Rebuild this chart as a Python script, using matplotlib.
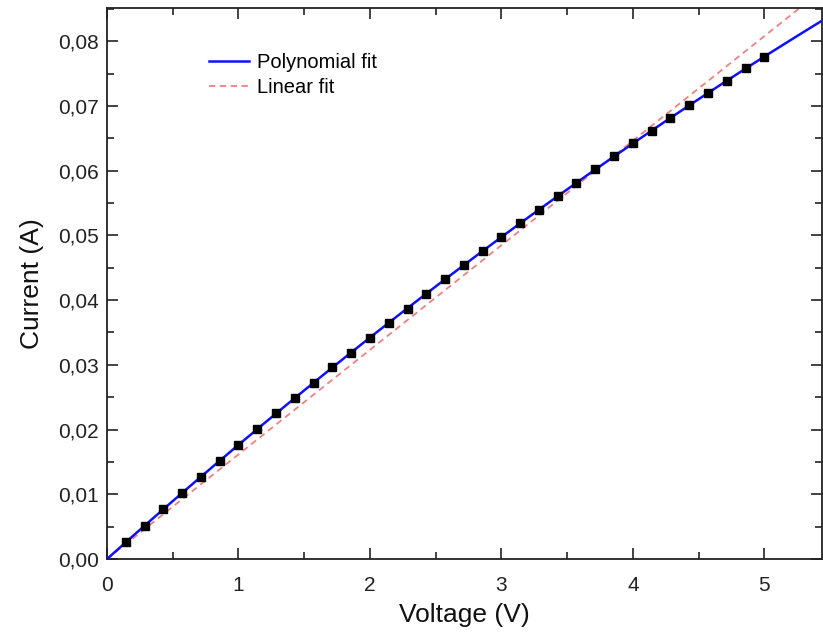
import matplotlib as mpl
mpl.use("Agg")
import matplotlib.pyplot as plt
import numpy as np
from matplotlib.ticker import MultipleLocator, FuncFormatter

# measured points (V, A)
voltage = np.array([0.143, 0.286, 0.429, 0.571, 0.714, 0.857, 1.000,
                    1.143, 1.286, 1.429, 1.571, 1.714, 1.857, 2.000,
                    2.143, 2.286, 2.429, 2.571, 2.714, 2.857, 3.000,
                    3.143, 3.286, 3.429, 3.571, 3.714, 3.857, 4.000,
                    4.143, 4.286, 4.429, 4.571, 4.714, 4.857, 5.000])
current = np.array([0.0026, 0.0051, 0.0077, 0.0102, 0.0127, 0.0152, 0.0176,
                    0.0201, 0.0225, 0.0249, 0.0272, 0.0296, 0.0319, 0.0342,
                    0.0365, 0.0387, 0.0410, 0.0432, 0.0454, 0.0476, 0.0497,
                    0.0519, 0.0540, 0.0561, 0.0581, 0.0602, 0.0622, 0.0642,
                    0.0662, 0.0681, 0.0701, 0.0720, 0.0739, 0.0758, 0.0776])

# fits: 2nd order polynomial through origin, linear through origin
A = np.column_stack([voltage, voltage**2])
poly_coef = np.linalg.lstsq(A, current, rcond=None)[0]
lin_slope = np.sum(voltage * current) / np.sum(voltage**2)

x_fit = np.linspace(0, 5.5, 300)
poly_fit = poly_coef[0] * x_fit + poly_coef[1] * x_fit**2
lin_fit = lin_slope * x_fit

plt.rcParams["font.family"] = ["Liberation Sans", "DejaVu Sans"]
fig = plt.figure(figsize=(8.23, 6.32), dpi=100)
ax = fig.add_axes([0.130, 0.1155, 0.869, 0.8715])

ax.plot(x_fit, lin_fit, color="#f08080", lw=1.3, ls=(0, (3.5, 2.5)), label="Linear fit", zorder=2)
ax.plot(x_fit, poly_fit, color="#1010ff", lw=1.8, label="Polynomial fit", zorder=3)
ax.plot(voltage, current, "s", color="black", ms=5.5, zorder=4)

ax.set_xlim(0, 5.44)
ax.set_ylim(0, 0.0851)
ax.xaxis.set_major_locator(MultipleLocator(1))
ax.xaxis.set_minor_locator(MultipleLocator(0.5))
ax.yaxis.set_major_locator(MultipleLocator(0.01))
ax.yaxis.set_minor_locator(MultipleLocator(0.005))
ax.yaxis.set_major_formatter(FuncFormatter(lambda v, p: f"{v:.2f}".replace(".", ",")))
ax.xaxis.set_major_formatter(FuncFormatter(lambda v, p: f"{v:.0f}"))

ax.tick_params(which="both", direction="in", top=True, right=True, width=1.2,
               labelsize=15, colors="#222222")
ax.tick_params(axis="y", pad=6)
ax.tick_params(axis="x", pad=12)
ax.tick_params(which="major", length=8)
ax.tick_params(which="minor", length=5)
for s in ax.spines.values():
    s.set_linewidth(1.3)
    s.set_color("#222222")

ax.set_xlabel("Voltage (V)", fontsize=19, color="#111111", labelpad=6)
ax.set_ylabel("Current (A)", fontsize=19, color="#111111", labelpad=10)

h, l = ax.get_legend_handles_labels()
ax.legend(h[::-1], l[::-1], loc="upper left", bbox_to_anchor=(0.117, 0.952), frameon=False,
          fontsize=14.5, handlelength=2.0, handletextpad=0.4, labelspacing=0.3)

fig.savefig("out.png", dpi=100)
